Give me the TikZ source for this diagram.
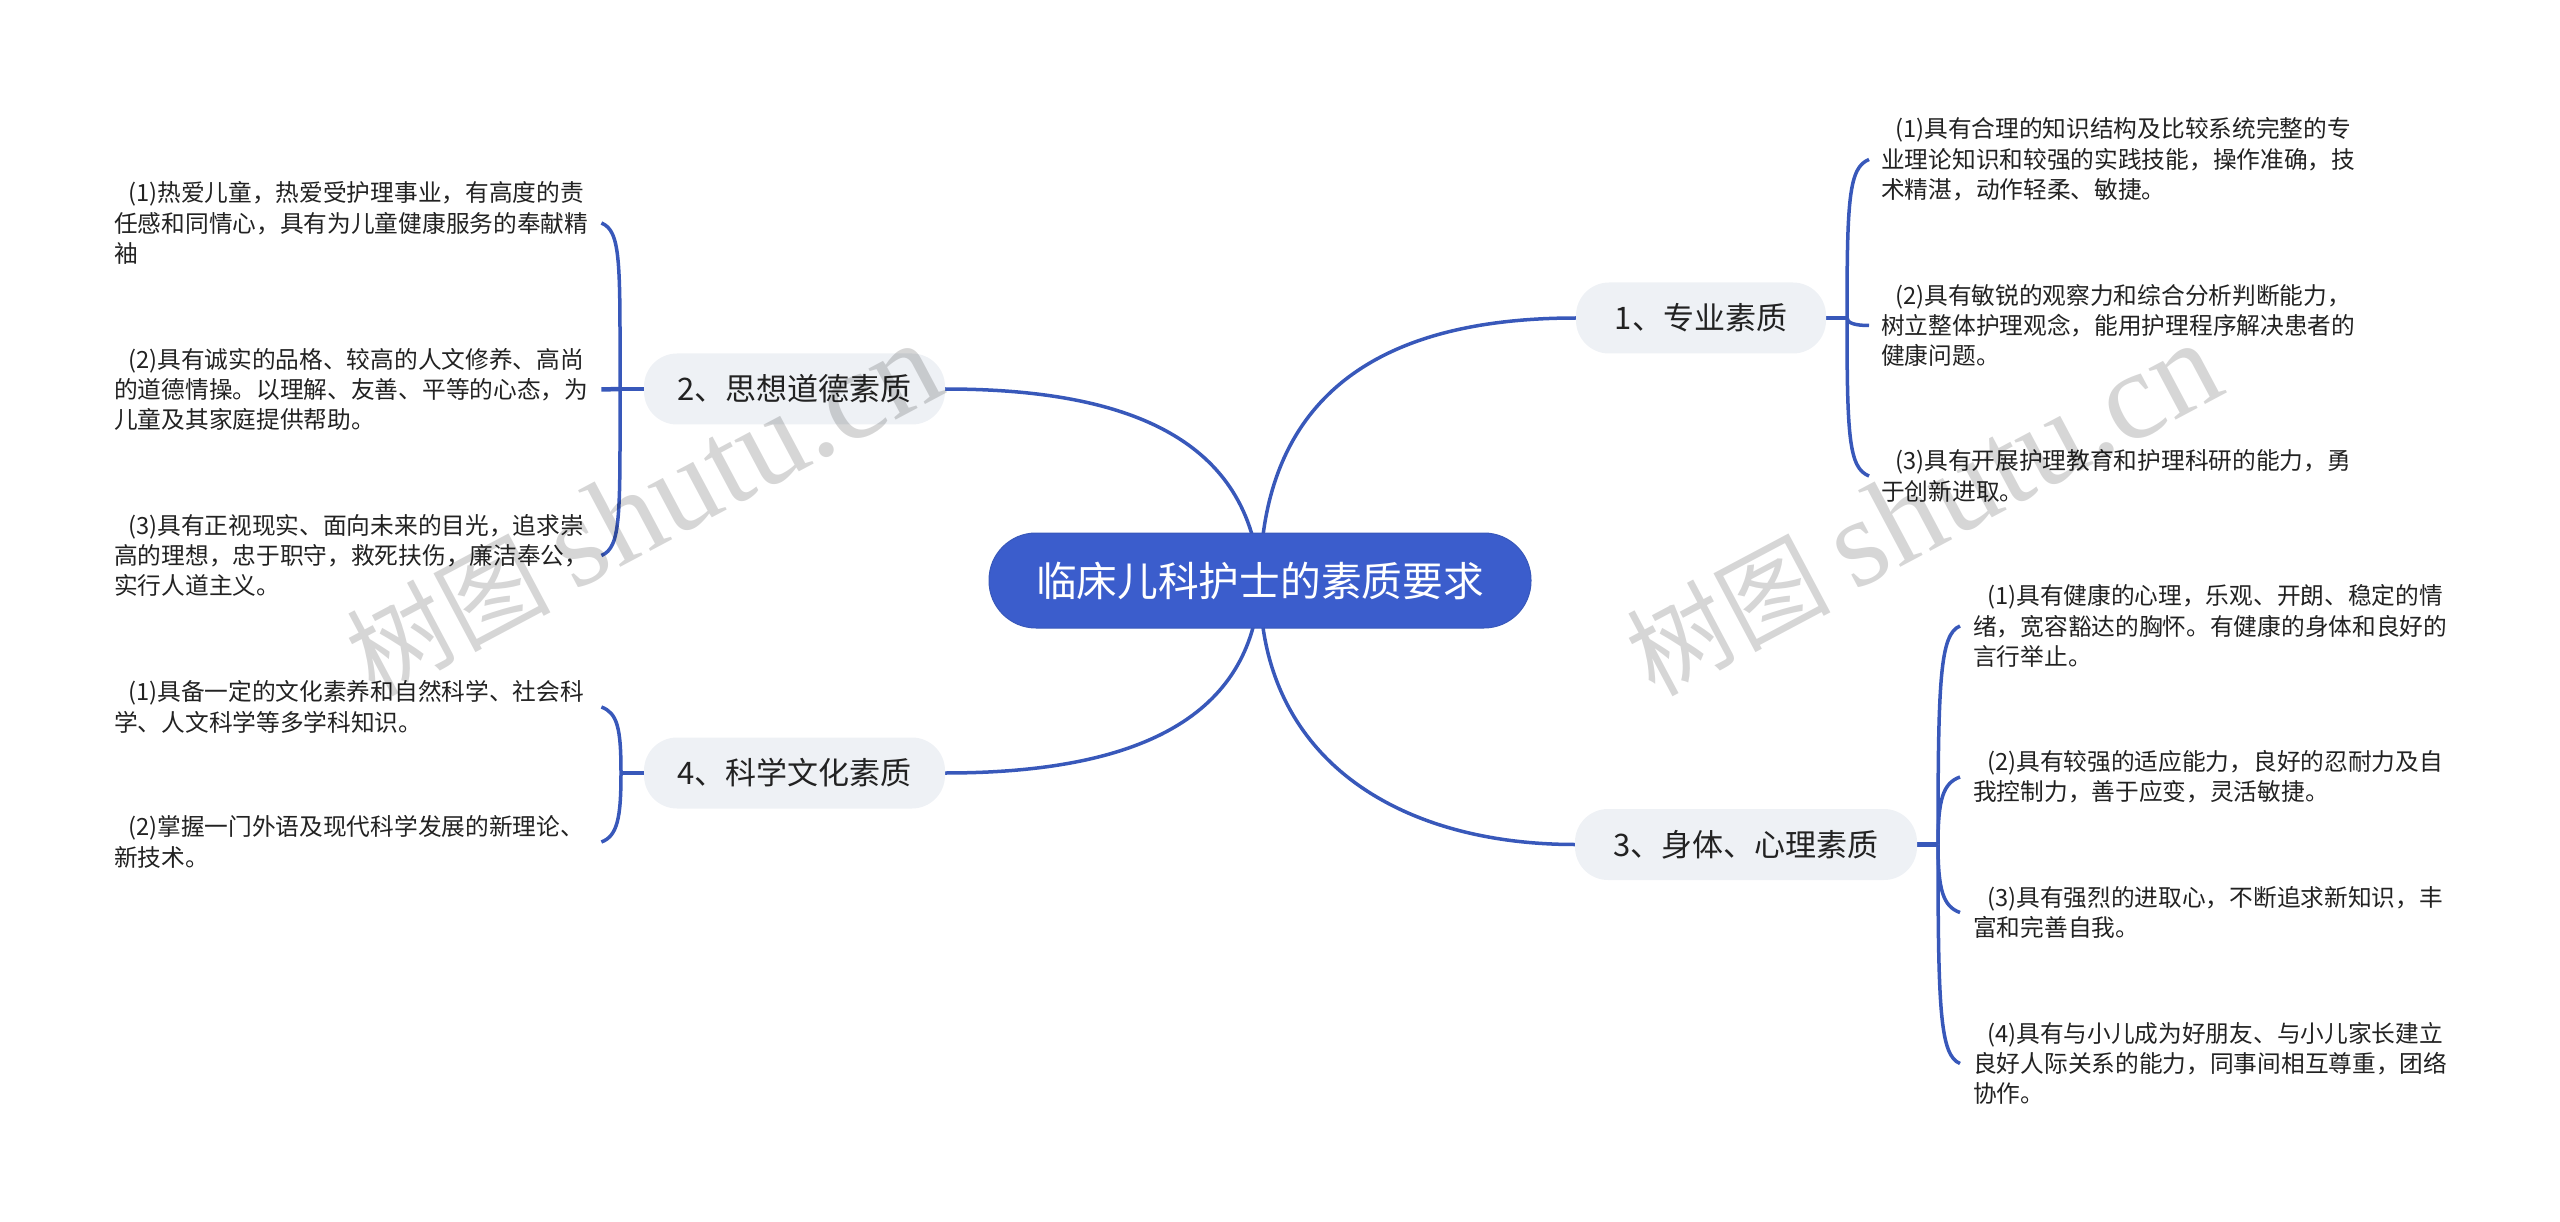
\documentclass[tikz,border=0pt]{standalone}
\usepackage{fontspec}
\setmainfont{Noto Sans CJK SC}
\newfontfamily\wmlat{Liberation Serif}
\usetikzlibrary{backgrounds}
\definecolor{rootblue}{RGB}{59,93,204}
\definecolor{linkblue}{RGB}{56,88,186}
\definecolor{subfill}{RGB}{238,241,245}
\definecolor{inkc}{RGB}{34,34,34}
\tikzset{
  x=1pt,y=-1pt,
  rootnode/.style={draw=linkblue,line width=1pt,fill=rootblue,text=white,rounded corners=47pt,minimum width=542pt,minimum height=95pt,inner sep=0pt,font=\fontsize{40.7}{48}\selectfont},
  subnode/.style={fill=subfill,text=inkc,rounded corners=33pt,minimum height=71pt,inner sep=0pt,font=\fontsize{31}{36}\selectfont},
  leafnode/.style={anchor=west,text=inkc,align=left,text width=476pt,inner ysep=0pt,inner xsep=12pt,font=\fontsize{23.7}{30.4}\selectfont},
  trunk/.style={draw=linkblue,line width=3.5pt,line cap=round},
  stub/.style={draw=linkblue,line width=4.5pt},
  branch/.style={draw=linkblue,line width=3.5pt},
  watermark/.style={text=black,opacity=0.16,rotate=28,inner sep=0pt,font=\fontsize{102}{120}\selectfont},
}
\newcommand{\ind}{\hspace*{14pt}}
\begin{document}
\begin{tikzpicture}
\useasboundingbox (0,0) rectangle (2560,1222);

\node[rootnode] (root) at (1260,580.5) {临床儿科护士的素质要求};
\node[subnode,minimum width=250pt] (n1) at (1701,318) {1、专业素质};
\node[subnode,minimum width=301pt] (n2) at (794.5,389) {2、思想道德素质};
\node[subnode,minimum width=342pt] (n3) at (1746,844.5) {3、身体、心理素质};
\node[subnode,minimum width=301pt] (n4) at (794.5,773) {4、科学文化素质};

\coordinate (h1) at (1847,318);
\coordinate (h2) at (620,389);
\coordinate (h3) at (1938,844.5);
\coordinate (h4) at (621,773);

\node[leafnode] (a1) at (1869,159.5) {\ind(1)具有合理的知识结构及比较系统完整的专\\业理论知识和较强的实践技能，操作准确，技\\术精湛，动作轻柔、敏捷。};
\node[leafnode] (a2) at (1869,325.5) {\ind(2)具有敏锐的观察力和综合分析判断能力，\\树立整体护理观念，能用护理程序解决患者的\\健康问题。};
\node[leafnode] (a3) at (1869,476) {\ind(3)具有开展护理教育和护理科研的能力，勇\\于创新进取。};

\node[leafnode,inner xsep=11pt] (b1) at (103,223) {\ind(1)热爱儿童，热爱受护理事业，有高度的责\\任感和同情心，具有为儿童健康服务的奉献精\\袖};
\node[leafnode,inner xsep=11pt] (b2) at (103,389.5) {\ind(2)具有诚实的品格、较高的人文修养、高尚\\的道德情操。以理解、友善、平等的心态，为\\儿童及其家庭提供帮助。};
\node[leafnode,inner xsep=11pt] (b3) at (103,555.5) {\ind(3)具有正视现实、面向未来的目光，追求崇\\高的理想，忠于职守，救死扶伤，廉洁奉公，\\实行人道主义。};

\node[leafnode,inner xsep=13pt] (c1) at (1960,626) {\ind(1)具有健康的心理，乐观、开朗、稳定的情\\绪，宽容豁达的胸怀。有健康的身体和良好的\\言行举止。};
\node[leafnode,inner xsep=13pt] (c2) at (1960,777) {\ind(2)具有较强的适应能力，良好的忍耐力及自\\我控制力，善于应变，灵活敏捷。};
\node[leafnode,inner xsep=13pt] (c3) at (1960,912.5) {\ind(3)具有强烈的进取心，不断追求新知识，丰\\富和完善自我。};
\node[leafnode,inner xsep=13pt] (c4) at (1960,1063.5) {\ind(4)具有与小儿成为好朋友、与小儿家长建立\\良好人际关系的能力，同事间相互尊重，团络\\协作。};

\node[leafnode,inner xsep=11pt] (d1) at (103,707) {\ind(1)具备一定的文化素养和自然科学、社会科\\学、人文科学等多学科知识。};
\node[leafnode,inner xsep=11pt] (d2) at (103,842) {\ind(2)掌握一门外语及现代科学发展的新理论、\\新技术。};

\begin{pgfonlayer}{background}
\draw[trunk] (root.center) .. controls (1262,380) and (1400,318) .. (n1.west);
\draw[trunk] (root.center) .. controls (1250,440) and (1130,389) .. (n2.east);
\draw[trunk] (root.center) .. controls (1258,760) and (1400,844.5) .. (n3.west);
\draw[trunk] (root.center) .. controls (1255,710) and (1150,773) .. (n4.east);

\draw[stub] (n1.east) -- (h1);
\draw[stub] (n2.west) -- (h2);
\draw[stub] (n3.east) -- (h3);
\draw[stub] (n4.west) -- (h4);

\draw[branch] (h1) .. controls +(0,-120) and +(-20,8) .. (a1.west);
\draw[branch] (h1) .. controls +(0,5) and +(-14,0) .. (a2.west);
\draw[branch] (h1) .. controls +(0,120) and +(-20,-8) .. (a3.west);

\draw[branch] (h2) .. controls +(0,-125) and +(20,8) .. (b1.east);
\draw[stub] (h2) -- (b2.east);
\draw[branch] (h2) .. controls +(0,125) and +(20,-8) .. (b3.east);

\draw[branch] (h3) .. controls +(0,-165) and +(-20,8) .. (c1.west);
\draw[branch] (h3) .. controls +(0,-45) and +(-17,6) .. (c2.west);
\draw[branch] (h3) .. controls +(0,45) and +(-17,-6) .. (c3.west);
\draw[branch] (h3) .. controls +(0,165) and +(-20,-8) .. (c4.west);

\draw[branch] (h4) .. controls +(0,-45) and +(16,6) .. (d1.east);
\draw[branch] (h4) .. controls +(0,45) and +(16,-6) .. (d2.east);
\end{pgfonlayer}

\node[watermark] (w1) at (643,510) {树图 {\wmlat\fontsize{126}{130}\selectfont shutu.cn}};
\node[watermark] (w2) at (1923,510) {树图 {\wmlat\fontsize{126}{130}\selectfont shutu.cn}};
\end{tikzpicture}
\end{document}
